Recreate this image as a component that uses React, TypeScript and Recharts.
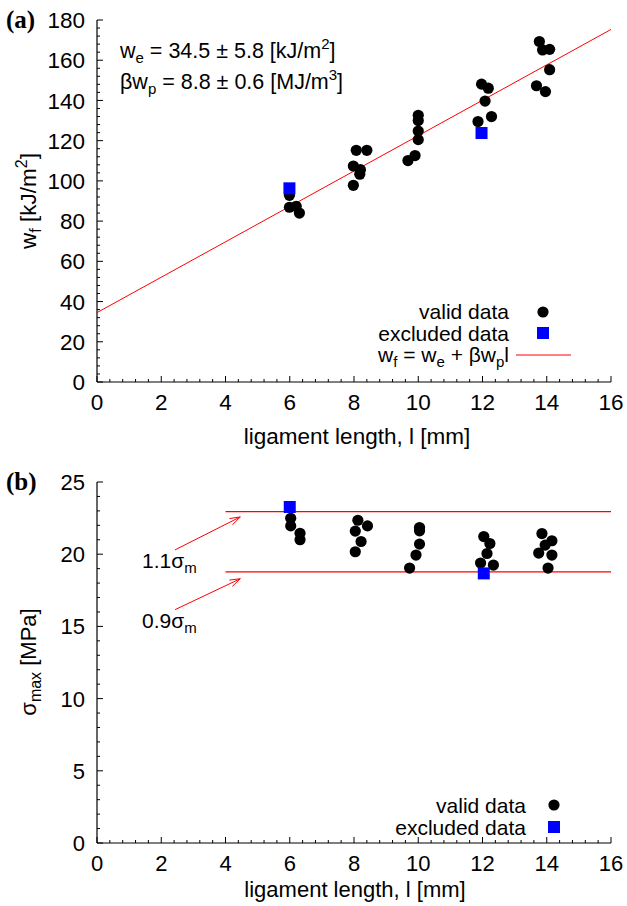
import { ScatterChart, Scatter, XAxis, YAxis, ReferenceLine } from 'recharts'

// (a) specific work of fracture vs ligament length
const A_VALID_L = [5.99, 5.99, 6.2, 6.3, 8.07, 8.4, 7.98, 8.2, 8.18, 7.98, 10, 10, 10, 10, 9.9, 9.68, 11.97, 12.18, 12.08, 12.28, 11.86, 13.77, 13.87, 14.09, 14.09, 13.68, 13.96]
const A_VALID_W = [92.8, 86.9, 87.4, 84.0, 115.2, 115.2, 107.4, 105.6, 103.3, 97.8, 132.6, 130, 124.8, 120.5, 112.6, 110.1, 148.1, 146.1, 139.7, 132, 129.5, 169.3, 165.1, 165.4, 155.3, 147.3, 144.4]
const A_EXCL_L = [5.99, 11.97]
const A_EXCL_W = [96.3, 123.8]
const FIT_L = [0, 16]
const FIT_W = [34.5, 175.3]

// (b) max stress vs ligament length
const B_VALID_L = [6.03, 6.03, 6.32, 6.32, 8.12, 8.42, 8.04, 8.22, 8.04, 10.04, 10.04, 10.04, 9.93, 9.73, 12.04, 12.23, 12.14, 11.94, 12.34, 13.85, 14.16, 13.95, 13.75, 14.16, 14.04]
const B_VALID_S = [22.49, 21.96, 21.45, 21.0, 22.35, 21.96, 21.6, 20.88, 20.17, 21.85, 21.62, 20.7, 19.94, 19.04, 21.22, 20.74, 20.05, 19.39, 19.25, 21.43, 20.93, 20.63, 20.08, 19.94, 19.04]
const B_EXCL_L = [6.0, 12.04]
const B_EXCL_S = [23.27, 18.67]
const BAND_L = [4, 16]
const BAND_HI = [22.95, 22.95]
const BAND_LO = [18.78, 18.78]
const ARROW_FROM_L = [2.43, 2.43]
const ARROW_FROM_S = [20.3, 16.16]
const ARROW_TO_L = [4.46, 4.46]
const ARROW_TO_S = [22.58, 18.3]

const steps = (max: number, step: number) => {
  const out: number[] = []
  for (let k = 0; k * step <= max + 1e-9; k++) out.push(Math.round(k * step * 1000) / 1000)
  return out
}
const X_TICKS = steps(16, 0.4)
const A_Y_TICKS = steps(180, 4)
const B_Y_TICKS = steps(25, 1)

const FONT = '"Liberation Sans", Arial, Helvetica, sans-serif'
const SERIF = '"Liberation Serif", "Times New Roman", serif'
const MAJ = 6
const MIN = 3
const isMajor = (v: number, step: number) => Math.abs(v / step - Math.round(v / step)) < 1e-6

const zip = (xs: number[], ys: number[]) => xs.map((x, i) => ({ x, y: ys[i] }))

const bottomTick = (step: number, margin: number, fs: number) => (p: any) => {
  const v = p.payload.value
  const maj = isMajor(v, step)
  const ay = p.y - margin
  return (
    <g>
      <line x1={p.x} x2={p.x} y1={ay} y2={ay - (maj ? MAJ : MIN)} stroke="#000" />
      {maj && <text x={p.x} y={p.y} textAnchor="middle" fontSize={fs} fontFamily={FONT} fill="#000">{v}</text>}
    </g>
  )
}
const topTick = (step: number) => (p: any) => {
  const maj = isMajor(p.payload.value, step)
  return <line x1={p.x} x2={p.x} y1={p.y} y2={p.y + (maj ? MAJ : MIN)} stroke="#000" />
}
const leftTick = (step: number, margin: number, fs: number) => (p: any) => {
  const v = p.payload.value
  const maj = isMajor(v, step)
  const ax = p.x + margin
  return (
    <g>
      <line x1={ax} x2={ax + (maj ? MAJ : MIN)} y1={p.y} y2={p.y} stroke="#000" />
      {maj && <text x={p.x} y={p.y + fs * 0.36} textAnchor="end" fontSize={fs} fontFamily={FONT} fill="#000">{v}</text>}
    </g>
  )
}
const rightTick = (step: number) => (p: any) => {
  const maj = isMajor(p.payload.value, step)
  return <line x1={p.x} x2={p.x - (maj ? MAJ : MIN)} y1={p.y} y2={p.y} stroke="#000" />
}

const dot = (p: any) => <circle cx={p.cx} cy={p.cy} r={5.6} fill="#000" />
const square = (p: any) => <rect x={p.cx - 6} y={p.cy - 6} width={12} height={12} fill="#0000ff" />
const none = () => <g />

const arrow = (p: any) => {
  const { x1, y1, x2, y2 } = p
  const t = Math.atan2(y2 - y1, x2 - x1)
  const L = 11
  const a = 0.32
  return (
    <g stroke="#ff0000" strokeWidth={1} fill="none">
      <line x1={x1} y1={y1} x2={x2} y2={y2} />
      <polyline points={`${x2 - L * Math.cos(t - a)},${y2 - L * Math.sin(t - a)} ${x2},${y2} ${x2 - L * Math.cos(t + a)},${y2 - L * Math.sin(t + a)}`} />
    </g>
  )
}

const axisLine = { stroke: '#000', strokeWidth: 1.2 }

// four-sided gnuplot-like frame with inward ticks
function frame(yDomain: [number, number], yTicks: number[], yStep: number, xH: number, fs: number) {
  return [
    <XAxis key="b" xAxisId="b" dataKey="x" type="number" domain={[0, 16]} allowDataOverflow ticks={X_TICKS} interval={0}
      height={xH} tickSize={0} tickMargin={28} tickLine={false} axisLine={axisLine} tick={bottomTick(2, 28, fs)} />,
    <XAxis key="t" xAxisId="t" orientation="top" type="number" domain={[0, 16]} allowDataOverflow ticks={X_TICKS} interval={0}
      height={0} tickSize={0} tickMargin={0} tickLine={false} axisLine={axisLine} tick={topTick(2)} />,
    <YAxis key="l" yAxisId="l" dataKey="y" type="number" domain={yDomain} allowDataOverflow ticks={yTicks} interval={0}
      width={97} tickSize={0} tickMargin={12} tickLine={false} axisLine={axisLine} tick={leftTick(yStep, 12, fs)} />,
    <YAxis key="r" yAxisId="r" orientation="right" type="number" domain={yDomain} allowDataOverflow ticks={yTicks} interval={0}
      width={0} tickSize={0} tickMargin={0} tickLine={false} axisLine={axisLine} tick={rightTick(yStep)} />,
  ]
}

export default function App() {
  const sub = 15
  const FA = 22.5
  const FB = 22
  return (
    <div style={{ position: 'absolute', left: 0, top: 0, width: 627, height: 906, background: '#fff' }}>
      <div style={{ position: 'absolute', left: 0, top: 0 }}>
        <ScatterChart width={627} height={453} margin={{ top: 20, right: 16, bottom: 0, left: 0 }}>
          {frame([0, 180], A_Y_TICKS, 20, 71, FA)}
          <Scatter xAxisId="b" yAxisId="l" data={zip(FIT_L, FIT_W)} line={{ stroke: '#ff0000', strokeWidth: 1 }} shape={none} isAnimationActive={false} />
          <Scatter xAxisId="b" yAxisId="l" data={zip(A_VALID_L, A_VALID_W)} shape={dot} isAnimationActive={false} />
          <Scatter xAxisId="b" yAxisId="l" data={zip(A_EXCL_L, A_EXCL_W)} shape={square} isAnimationActive={false} />
        </ScatterChart>
      </div>
      <div style={{ position: 'absolute', left: 0, top: 453 }}>
        <ScatterChart width={627} height={453} margin={{ top: 29, right: 16, bottom: 0, left: 0 }}>
          {frame([0, 25], B_Y_TICKS, 5, 63, FB)}
          <Scatter xAxisId="b" yAxisId="l" data={zip(BAND_L, BAND_HI)} line={{ stroke: '#ff0000', strokeWidth: 1.3 }} shape={none} isAnimationActive={false} />
          <Scatter xAxisId="b" yAxisId="l" data={zip(BAND_L, BAND_LO)} line={{ stroke: '#ff0000', strokeWidth: 1.3 }} shape={none} isAnimationActive={false} />
          {ARROW_FROM_L.map((l, i) => (
            <ReferenceLine key={i} xAxisId="b" yAxisId="l" ifOverflow="visible"
              segment={[{ x: l, y: ARROW_FROM_S[i] }, { x: ARROW_TO_L[i], y: ARROW_TO_S[i] }]} shape={arrow} />
          ))}
          <Scatter xAxisId="b" yAxisId="l" data={zip(B_VALID_L, B_VALID_S)} shape={dot} isAnimationActive={false} />
          <Scatter xAxisId="b" yAxisId="l" data={zip(B_EXCL_L, B_EXCL_S)} shape={square} isAnimationActive={false} />
        </ScatterChart>
      </div>
      <svg width={627} height={906} style={{ position: 'absolute', left: 0, top: 0, pointerEvents: 'none' }}
        fontFamily={FONT} fontSize={FA} fill="#000">
        <text x={6} y={28} fontFamily={SERIF} fontWeight="bold" fontSize={25}>(a)</text>
        <text x={6} y={490} fontFamily={SERIF} fontWeight="bold" fontSize={25}>(b)</text>

        <g fontSize={21.5}>
          <text x={120} y={58}>w<tspan dy={5} fontSize={sub}>e</tspan><tspan dy={-5}> = 34.5 ± 5.8 [kJ/m</tspan><tspan dy={-9} fontSize={sub}>2</tspan><tspan dy={9}>]</tspan></text>
          <text x={120} y={89}>βw<tspan dy={5} fontSize={sub}>p</tspan><tspan dy={-5}> = 8.8 ± 0.6 [MJ/m</tspan><tspan dy={-9} fontSize={sub}>3</tspan><tspan dy={9}>]</tspan></text>
        </g>

        <text transform="rotate(-90 36 201)" x={36} y={201} textAnchor="middle">w<tspan dy={5} fontSize={16}>f</tspan><tspan dy={-5}> [kJ/m</tspan><tspan dy={-9} fontSize={16}>2</tspan><tspan dy={9}>]</tspan></text>
        <text transform="rotate(-90 36 662)" x={36} y={662} textAnchor="middle" fontSize={FB}>σ<tspan dy={5} fontSize={16}>max</tspan><tspan dy={-5}> [MPa]</tspan></text>

        <text x={357} y={444} textAnchor="middle">ligament length, l [mm]</text>
        <text x={355} y={897} textAnchor="middle" fontSize={FB}>ligament length, l [mm]</text>

        <g fontSize={21}>
          <text x={509} y={318.5} textAnchor="end">valid data</text>
          <text x={509} y={340.5} textAnchor="end">excluded data</text>
          <text x={509} y={362} textAnchor="end">w<tspan dy={5} fontSize={15}>f</tspan><tspan dy={-5}> = w</tspan><tspan dy={5} fontSize={15}>e</tspan><tspan dy={-5}> + βw</tspan><tspan dy={5} fontSize={15}>p</tspan><tspan dy={-5}>l</tspan></text>
        </g>
        <circle cx={543} cy={312} r={5.6} fill="#000" />
        <rect x={537} y={327} width={12} height={12} fill="#0000ff" />
        <line x1={516} x2={571} y1={355} y2={355} stroke="#ff0000" strokeWidth={1} />

        <g fontSize={21}>
          <text x={526} y={812.5} textAnchor="end">valid data</text>
          <text x={526} y={834.5} textAnchor="end">excluded data</text>
          <text x={142} y={568}>1.1σ<tspan dy={5} fontSize={sub}>m</tspan></text>
          <text x={142} y={628}>0.9σ<tspan dy={5} fontSize={sub}>m</tspan></text>
        </g>
        <circle cx={554} cy={805} r={5.6} fill="#000" />
        <rect x={548} y={821} width={12} height={12} fill="#0000ff" />
      </svg>
    </div>
  )
}
